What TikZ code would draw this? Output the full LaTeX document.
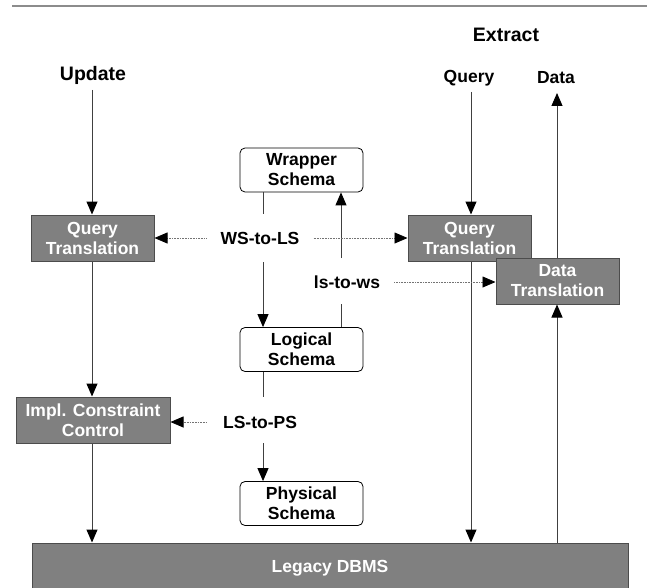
\documentclass[tikz,border=0pt]{standalone}
\usepackage{fontspec}
\setmainfont{Liberation Sans}
\usetikzlibrary{arrows.meta}
\begin{document}
\begin{tikzpicture}[x=1pt,y=-1pt,
 every node/.style={font=\fontsize{17.5}{20}\selectfont\bfseries, inner sep=0pt},
 big/.style={font=\fontsize{19.5}{22}\selectfont\bfseries},
 gbox/.style={draw=black!70, line width=1pt, fill=black!50, text=white, align=center, minimum height=46pt},
 sbox/.style={draw=black, line width=0.8pt, rounded corners=5pt, fill=white, align=center, minimum width=123pt, minimum height=44pt},
 conn/.style={line width=1pt, draw=black!75},
 arr/.style={conn, -{Triangle[length=13pt,width=11pt,color=black]}},
 dotarr/.style={draw=black!55, line width=0.8pt, dash pattern=on 0.8pt off 0.8pt, -{Triangle[length=13pt,width=11pt,color=black]}},
 tl/.style={inner xsep=14pt, inner ysep=2pt}]
\useasboundingbox (0,0) rectangle (647,588);
\draw[line width=2pt, black!45] (12,6) -- (647,6);
% labels
\node[big] (extract) at (506,35) {Extract};
\node[big] (update) at (93,75) {Update};
\node (query) at (469,78) {Query};
\node (data) at (556,78) {Data};
% boxes
\node[gbox, minimum width=123pt] (qtl) at (92.5,238) {Query\\Translation};
\node[gbox, minimum width=123pt] (qtr) at (469.5,238) {Query\\Translation};
\node[gbox, minimum width=123pt] (dt) at (557.5,281) {Data\\Translation};
\node[gbox, minimum width=154pt] (icc) at (93,420) {Impl. Constraint\\Control};
\node[sbox] (ws) at (301.5,170) {Wrapper\\Schema};
\node[sbox] (ls) at (301.5,349.5) {Logical\\Schema};
\node[sbox] (ps) at (301.5,503.5) {Physical\\Schema};
\node[gbox, minimum width=596pt, minimum height=50pt] (dbms) at (330,568) {Legacy DBMS};
% mapping labels
\node[tl] (wstols) at (260,238) {WS-to-LS};
\node[tl] (lstows) at (347,282) {ls-to-ws};
\node[tl, inner xsep=16pt] (lstops) at (260,422) {LS-to-PS};
% coordinates
\coordinate (u0) at (92,90);
\coordinate (q0) at (471,92);
\coordinate (d0) at (557,93);
\coordinate (m1) at (263,214);
\coordinate (m2) at (263,262);
\coordinate (m3) at (263,397);
\coordinate (m4) at (263,443);
\coordinate (n1) at (341,258);
\coordinate (n2) at (341,304);
% left column
\draw[arr] (u0) -- (u0 |- qtl.north);
\draw[arr] (u0 |- qtl.south) -- (u0 |- icc.north);
\draw[arr] (u0 |- icc.south) -- (u0 |- dbms.north);
% right columns
\draw[arr] (q0) -- (q0 |- qtr.north);
\draw[arr] (q0 |- qtr.south) -- (q0 |- dbms.north);
\draw[arr] (d0 |- dbms.north) -- (d0 |- dt.south);
\draw[arr] (d0 |- dt.north) -- (d0);
% middle
\draw[conn] (m1 |- ws.south) -- (m1);
\draw[arr] (m2) -- (m2 |- ls.north);
\draw[conn] (m3 |- ls.south) -- (m3);
\draw[arr] (m4) -- (m4 |- ps.north);
\draw[conn] (n2 |- ls.north) -- (n2);
\draw[arr] (n1) -- (n1 |- ws.south);
% dotted
\draw[dotarr] (wstols.west) -- (wstols.west -| qtl.east);
\draw[dotarr] (wstols.east) -- (wstols.east -| qtr.west);
\draw[dotarr] (lstows.east) -- (lstows.east -| dt.west);
\draw[dotarr] (lstops.west) -- (lstops.west -| icc.east);
\end{tikzpicture}
\end{document}
